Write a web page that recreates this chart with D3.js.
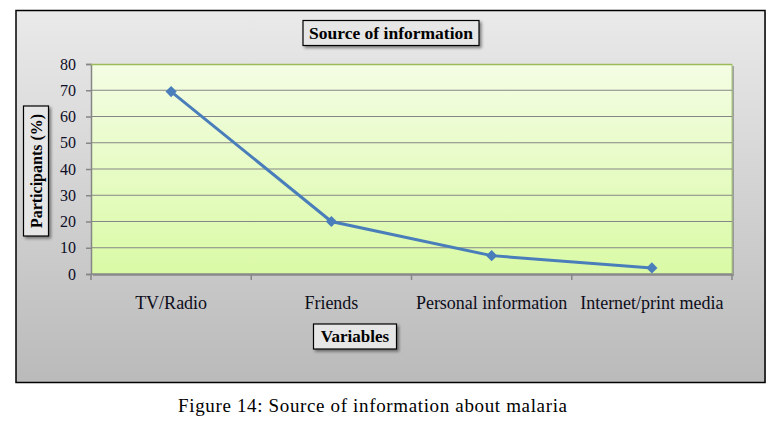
<!DOCTYPE html>
<html>
<head>
<meta charset="utf-8">
<script src="https://cdn.jsdelivr.net/npm/d3@7"></script>
<style>
  body { margin: 0; background: #fff; }
  svg { display: block; }
</style>
</head>
<body>
<svg width="779" height="432"></svg>
<script>
  var categories = ["TV/Radio", "Friends", "Personal information", "Internet/print media"];
  var values = [69.5, 20, 7, 2.3];
  var yTicks = [0, 10, 20, 30, 40, 50, 60, 70, 80];

  var svg = d3.select("svg");
  var margin = { top: 64, right: 47, bottom: 158, left: 91 };
  var innerWidth = 779 - margin.left - margin.right;
  var innerHeight = 432 - margin.top - margin.bottom;
  var font = '"Book Antiqua", "Palatino Linotype", "Liberation Serif", serif';

  var defs = svg.append("defs");
  var bg = defs.append("linearGradient").attr("id", "bg")
    .attr("x1", 0).attr("y1", 0).attr("x2", 0).attr("y2", 1);
  bg.append("stop").attr("offset", "0%").attr("stop-color", "#eaeaea");
  bg.append("stop").attr("offset", "100%").attr("stop-color", "#bababa");

  var plotBg = defs.append("linearGradient").attr("id", "plotBg")
    .attr("x1", 0).attr("y1", 0).attr("x2", 0).attr("y2", 1);
  plotBg.append("stop").attr("offset", "0%").attr("stop-color", "#f4fde4");
  plotBg.append("stop").attr("offset", "100%").attr("stop-color", "#dafaa6");

  var shadow = defs.append("filter").attr("id", "shadow")
    .attr("x", "-10%").attr("y", "-10%").attr("width", "130%").attr("height", "160%");
  shadow.append("feDropShadow").attr("dx", 2).attr("dy", 2).attr("stdDeviation", 1.5)
    .attr("flood-color", "#000").attr("flood-opacity", 0.45);

  // outer chart frame
  svg.append("rect")
    .attr("x", 18).attr("y", 12).attr("width", 748).attr("height", 371)
    .attr("fill", "#888").attr("opacity", 0.5);
  svg.append("rect")
    .attr("x", 16).attr("y", 10.5).attr("width", 749).attr("height", 372)
    .attr("fill", "url(#bg)").attr("stroke", "#000").attr("stroke-width", 1.5);

  var g = svg.append("g")
    .attr("transform", "translate(" + margin.left + "," + margin.top + ")");

  // scales
  var xScale = d3.scaleBand().domain(categories).range([0, innerWidth]);
  var yScale = d3.scaleLinear().domain([0, 80]).range([innerHeight, 0]);

  // plot area
  g.append("rect")
    .attr("x", 2).attr("y", 2).attr("width", innerWidth).attr("height", innerHeight)
    .attr("fill", "#777").attr("opacity", 0.6);
  g.append("rect")
    .attr("width", innerWidth).attr("height", innerHeight)
    .attr("fill", "url(#plotBg)");
  g.append("line")
    .attr("x1", innerWidth).attr("x2", innerWidth).attr("y1", 0).attr("y2", innerHeight)
    .attr("stroke", "#a8c878").attr("stroke-width", 1);

  // y axis with gridlines
  var yAxis = d3.axisLeft(yScale).tickValues(yTicks).tickSize(5).tickPadding(10);
  var yAxisGroup = g.append("g").call(yAxis)
    .attr("font-family", font).attr("font-size", 16);
  yAxisGroup.select(".domain").attr("stroke", "#868686").attr("stroke-width", 1.5);
  yAxisGroup.selectAll(".tick line").attr("stroke", "#868686").attr("stroke-width", 1.5);
  yAxisGroup.selectAll(".tick text").attr("fill", "#0d0d26");

  g.selectAll(".grid")
    .data(yTicks.filter(function (d) { return d > 0 && d < 80; }))
    .enter().append("line")
    .attr("class", "grid")
    .attr("x1", 0).attr("x2", innerWidth)
    .attr("y1", function (d) { return yScale(d); })
    .attr("y2", function (d) { return yScale(d); })
    .attr("stroke", "#868686").attr("stroke-width", 1.2);

  g.append("line")
    .attr("x1", 0).attr("x2", innerWidth).attr("y1", 0.5).attr("y2", 0.5)
    .attr("stroke", "#9bbb59").attr("stroke-width", 1.5);

  // x axis
  var xAxisGroup = g.append("g").attr("transform", "translate(0," + innerHeight + ")");
  xAxisGroup.append("line")
    .attr("x1", 0).attr("x2", innerWidth)
    .attr("stroke", "#868686").attr("stroke-width", 1.5);
  var bounds = categories.map(function (c) { return xScale(c); }).concat([innerWidth]);
  xAxisGroup.selectAll(".xtick")
    .data(bounds).enter().append("line")
    .attr("x1", function (d) { return d; }).attr("x2", function (d) { return d; })
    .attr("y1", 0).attr("y2", 6)
    .attr("stroke", "#868686").attr("stroke-width", 1.5);
  xAxisGroup.selectAll(".xlabel")
    .data(categories).enter().append("text")
    .attr("x", function (d) { return xScale(d) + xScale.bandwidth() / 2; })
    .attr("y", 35)
    .attr("text-anchor", "middle")
    .attr("font-family", font).attr("font-size", 18).attr("fill", "#0d0d1a")
    .text(function (d) { return d; });

  // line + markers
  var line = d3.line()
    .x(function (d, i) { return xScale(categories[i]) + xScale.bandwidth() / 2; })
    .y(function (d) { return yScale(d); });
  g.append("path")
    .datum(values)
    .attr("d", line)
    .attr("fill", "none").attr("stroke", "#4a7ebb").attr("stroke-width", 3);
  g.selectAll(".marker")
    .data(values).enter().append("path")
    .attr("class", "marker")
    .attr("d", d3.symbol().type(d3.symbolDiamond2).size(80))
    .attr("transform", function (d, i) {
      return "translate(" + (xScale(categories[i]) + xScale.bandwidth() / 2) + "," + yScale(d) + ")";
    })
    .attr("fill", "#4a7ebb");

  // labelled boxes
  function labelBox(x, y, w, h, text, size, rotate) {
    var b = svg.append("g").attr("transform", "translate(" + x + "," + y + ")");
    b.append("rect").attr("width", w).attr("height", h)
      .attr("fill", "#e6e6e6").attr("stroke", "#000").attr("stroke-width", 1.2)
      .attr("filter", "url(#shadow)");
    var t = b.append("text")
      .attr("font-family", font).attr("font-size", size).attr("font-weight", "bold")
      .attr("fill", "#000").attr("text-anchor", "middle")
      .text(text);
    if (rotate) {
      t.attr("transform", "translate(" + (w / 2 + 5.5) + "," + (h / 2) + ") rotate(-90)");
    } else {
      t.attr("x", w / 2).attr("y", h / 2 + 5.5);
    }
  }
  labelBox(303, 20.5, 176, 25, "Source of information", 17.5, false);
  labelBox(23.5, 106, 25, 130, "Participants (%)", 16, true);
  labelBox(313.5, 324, 83, 25, "Variables", 17, false);

  // caption
  svg.append("text")
    .attr("x", 178).attr("y", 412)
    .attr("font-family", font).attr("font-size", 19).attr("fill", "#000")
    .attr("textLength", 389).attr("lengthAdjust", "spacing")
    .text("Figure 14: Source of information about malaria");
</script>
</body>
</html>
